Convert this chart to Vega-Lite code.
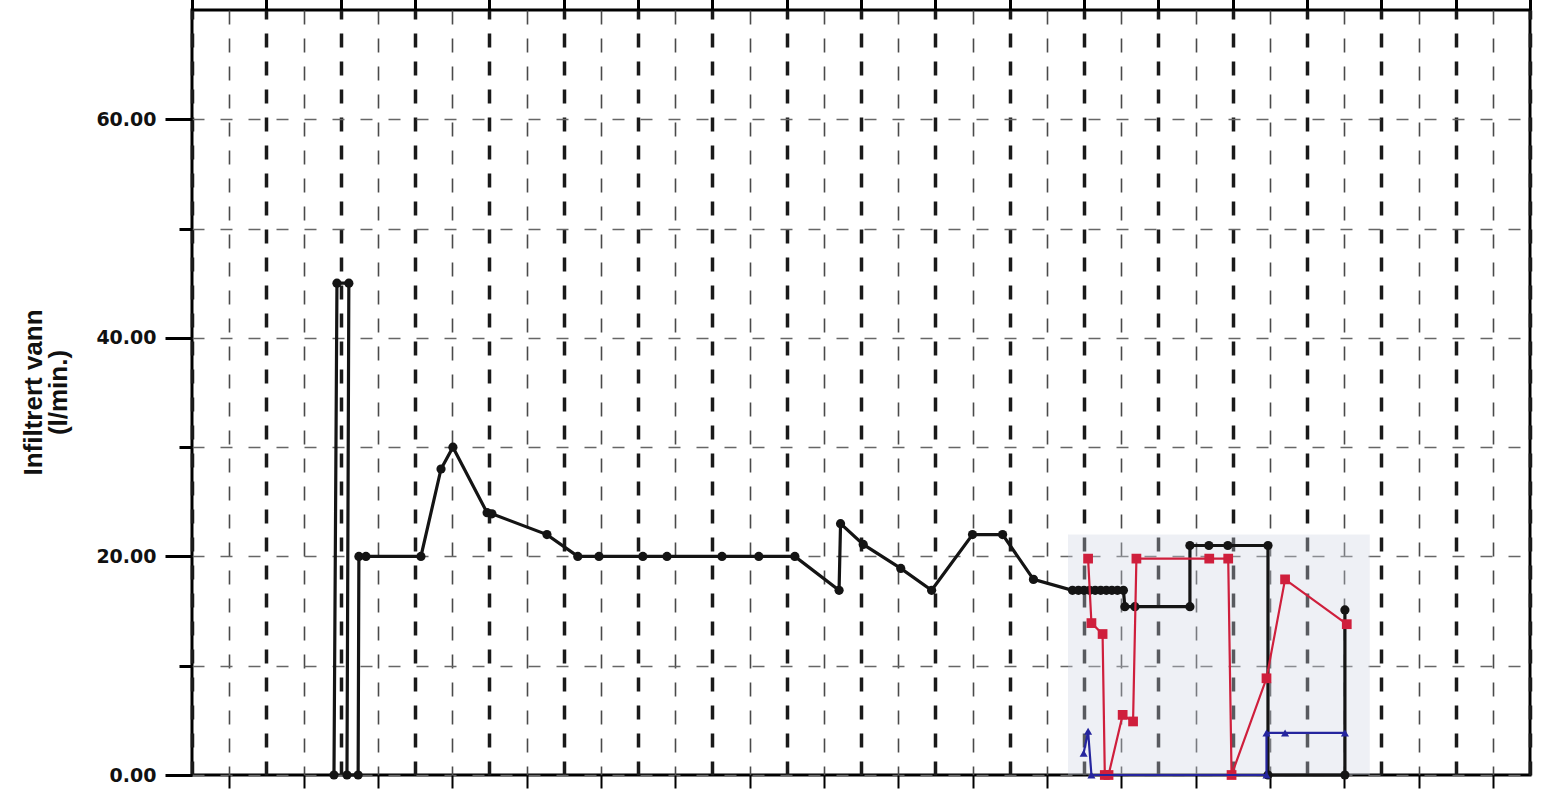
{
  "$schema": "https://vega.github.io/schema/vega-lite/v6.json",
  "width": 1338,
  "height": 765,
  "autosize": {"type": "none"},
  "padding": {"left": 192, "top": 10, "right": 19, "bottom": 23},
  "background": "white",
  "config": {
    "view": {"stroke": "black", "strokeWidth": 3},
    "axis": {"domain": false}
  },
  "resolve": {"axis": {"x": "independent"}},
  "datasets": {
    "shade": [{"x": 23.57, "x2": 31.69, "y": 0, "y2": 22}],
    "series": [
      {"s": "A", "i": 1, "x": 3.82, "y": 0},
      {"s": "A", "i": 2, "x": 3.90, "y": 45},
      {"s": "A", "i": 3, "x": 4.22, "y": 45},
      {"s": "A", "i": 4, "x": 4.17, "y": 0},
      {"s": "A", "i": 5, "x": 4.47, "y": 0},
      {"s": "A", "i": 6, "x": 4.49, "y": 20},
      {"s": "A", "i": 7, "x": 4.68, "y": 20},
      {"s": "A", "i": 8, "x": 6.16, "y": 20},
      {"s": "A", "i": 9, "x": 6.70, "y": 28},
      {"s": "A", "i": 10, "x": 7.02, "y": 30},
      {"s": "A", "i": 11, "x": 7.94, "y": 24},
      {"s": "A", "i": 12, "x": 8.07, "y": 23.9},
      {"s": "A", "i": 13, "x": 9.55, "y": 22},
      {"s": "A", "i": 14, "x": 10.38, "y": 20},
      {"s": "A", "i": 15, "x": 10.95, "y": 20},
      {"s": "A", "i": 16, "x": 12.13, "y": 20},
      {"s": "A", "i": 17, "x": 12.78, "y": 20},
      {"s": "A", "i": 18, "x": 14.26, "y": 20},
      {"s": "A", "i": 19, "x": 15.25, "y": 20},
      {"s": "A", "i": 20, "x": 16.22, "y": 20},
      {"s": "A", "i": 21, "x": 17.41, "y": 16.9},
      {"s": "A", "i": 22, "x": 17.45, "y": 23},
      {"s": "A", "i": 23, "x": 18.06, "y": 21.1},
      {"s": "A", "i": 24, "x": 19.07, "y": 18.9},
      {"s": "A", "i": 25, "x": 19.90, "y": 16.9},
      {"s": "A", "i": 26, "x": 21.0, "y": 22},
      {"s": "A", "i": 27, "x": 21.81, "y": 22},
      {"s": "A", "i": 28, "x": 22.64, "y": 17.9},
      {"s": "A", "i": 29, "x": 23.69, "y": 16.9},
      {"s": "A", "i": 30, "x": 23.85, "y": 16.9},
      {"s": "A", "i": 31, "x": 24.0, "y": 16.9},
      {"s": "A", "i": 32, "x": 24.15, "y": 16.9},
      {"s": "A", "i": 33, "x": 24.3, "y": 16.9},
      {"s": "A", "i": 34, "x": 24.45, "y": 16.9},
      {"s": "A", "i": 35, "x": 24.6, "y": 16.9},
      {"s": "A", "i": 36, "x": 24.75, "y": 16.9},
      {"s": "A", "i": 37, "x": 24.9, "y": 16.9},
      {"s": "A", "i": 38, "x": 25.06, "y": 16.9},
      {"s": "A", "i": 39, "x": 25.10, "y": 15.4},
      {"s": "A", "i": 40, "x": 25.37, "y": 15.4},
      {"s": "A", "i": 41, "x": 26.85, "y": 15.4},
      {"s": "A", "i": 42, "x": 26.85, "y": 21},
      {"s": "A", "i": 43, "x": 27.36, "y": 21},
      {"s": "A", "i": 44, "x": 27.87, "y": 21},
      {"s": "A", "i": 45, "x": 28.95, "y": 21},
      {"s": "A", "i": 46, "x": 28.95, "y": 0},
      {"s": "A", "i": 47, "x": 31.02, "y": 0},
      {"s": "A", "i": 48, "x": 31.02, "y": 15.1},
      {"s": "B", "i": 1, "x": 24.11, "y": 19.8},
      {"s": "B", "i": 2, "x": 24.20, "y": 13.9},
      {"s": "B", "i": 3, "x": 24.50, "y": 12.9},
      {"s": "B", "i": 4, "x": 24.56, "y": 0},
      {"s": "B", "i": 5, "x": 24.66, "y": 0},
      {"s": "B", "i": 6, "x": 25.04, "y": 5.5},
      {"s": "B", "i": 7, "x": 25.32, "y": 4.9},
      {"s": "B", "i": 8, "x": 25.41, "y": 19.8},
      {"s": "B", "i": 9, "x": 27.37, "y": 19.8},
      {"s": "B", "i": 10, "x": 27.88, "y": 19.8},
      {"s": "B", "i": 11, "x": 27.97, "y": 0},
      {"s": "B", "i": 12, "x": 28.91, "y": 8.85},
      {"s": "B", "i": 13, "x": 29.41, "y": 17.9},
      {"s": "B", "i": 14, "x": 31.07, "y": 13.8},
      {"s": "C", "i": 1, "x": 23.99, "y": 2.0},
      {"s": "C", "i": 2, "x": 24.11, "y": 4.0},
      {"s": "C", "i": 3, "x": 24.20, "y": 0},
      {"s": "C", "i": 4, "x": 28.91, "y": 0},
      {"s": "C", "i": 5, "x": 28.91, "y": 3.85},
      {"s": "C", "i": 6, "x": 29.41, "y": 3.85},
      {"s": "C", "i": 7, "x": 31.02, "y": 3.85}
    ]
  },
  "layer": [
    {
      "data": {"name": "shade"},
      "mark": {"type": "rect", "color": "#cfd5e2", "opacity": 0.35},
      "encoding": {
        "x": {
          "field": "x", "type": "quantitative",
          "scale": {"domain": [0, 36], "nice": false, "zero": false},
          "axis": {
            "values": [1,3,5,7,9,11,13,15,17,19,21,23,25,27,29,31,33,35],
            "labels": false,
            "title": null,
            "grid": true,
            "gridColor": "#4a4a4a",
            "gridWidth": 1.6,
            "gridDash": [14, 14],
            "tickColor": "black",
            "tickSize": 13,
            "tickWidth": 2
          }
        },
        "x2": {"field": "x2"},
        "y": {
          "field": "y", "type": "quantitative",
          "scale": {"domain": [0, 70], "nice": false},
          "axis": {
            "values": [0, 10, 20, 30, 40, 50, 60],
            "labelExpr": "datum.value % 20 === 0 ? format(datum.value, '.2f') : ''",
            "labelFont": "DejaVu Sans",
            "labelFontSize": 19,
            "labelFontWeight": "bold",
            "labelColor": "#111111",
            "labelPadding": 9,
            "grid": true,
            "gridColor": "#666666",
            "gridWidth": 1.6,
            "gridDash": [12, 16],
            "tickColor": "black",
            "tickSize": {"condition": {"test": "datum.value % 20 === 0", "value": 27}, "value": 13},
            "tickWidth": 3,
            "title": ["Infiltrert vann", "(l/min.)"],
            "titleFont": "Liberation Sans",
            "titleFontSize": 26,
            "titleFontWeight": "bold",
            "titleColor": "#111111",
            "titleLineHeight": 25,
            "titleAngle": -90,
            "titleX": -151,
            "titleY": 382,
            "titleAlign": "center",
            "titleBaseline": "alphabetic"
          }
        },
        "y2": {"field": "y2"}
      }
    },
    {
      "data": {"name": "series"},
      "transform": [{"filter": "datum.s === 'A'"}],
      "mark": {"type": "line", "color": "#141414", "strokeWidth": 3.2, "point": {"filled": true, "color": "#141414", "size": 85, "shape": "circle"}},
      "encoding": {
        "x": {
          "field": "x", "type": "quantitative",
          "axis": {
            "values": [0,2,4,6,8,10,12,14,16,18,20,22,24,26,28,30,32,34,36],
            "labels": false,
            "title": null,
            "grid": true,
            "gridColor": "#1a1a1a",
            "gridWidth": 3.5,
            "gridDash": [14, 14],
            "tickColor": "black",
            "tickSize": 30,
            "tickWidth": 3
          }
        },
        "y": {"field": "y", "type": "quantitative"},
        "order": {"field": "i", "type": "quantitative"}
      }
    },
    {
      "data": {"name": "series"},
      "transform": [{"filter": "datum.s === 'B'"}],
      "mark": {"type": "line", "color": "#cf1f3c", "strokeWidth": 2.2, "point": {"filled": true, "color": "#cf1f3c", "size": 95, "shape": "square"}},
      "encoding": {
        "x": {"field": "x", "type": "quantitative", "axis": null},
        "y": {"field": "y", "type": "quantitative"},
        "order": {"field": "i", "type": "quantitative"}
      }
    },
    {
      "data": {"name": "series"},
      "transform": [{"filter": "datum.s === 'C'"}],
      "mark": {"type": "line", "color": "#25259e", "strokeWidth": 2.2, "point": {"filled": true, "color": "#25259e", "size": 65, "shape": "triangle-up"}},
      "encoding": {
        "x": {"field": "x", "type": "quantitative", "axis": null},
        "y": {"field": "y", "type": "quantitative"},
        "order": {"field": "i", "type": "quantitative"}
      }
    }
  ]
}
